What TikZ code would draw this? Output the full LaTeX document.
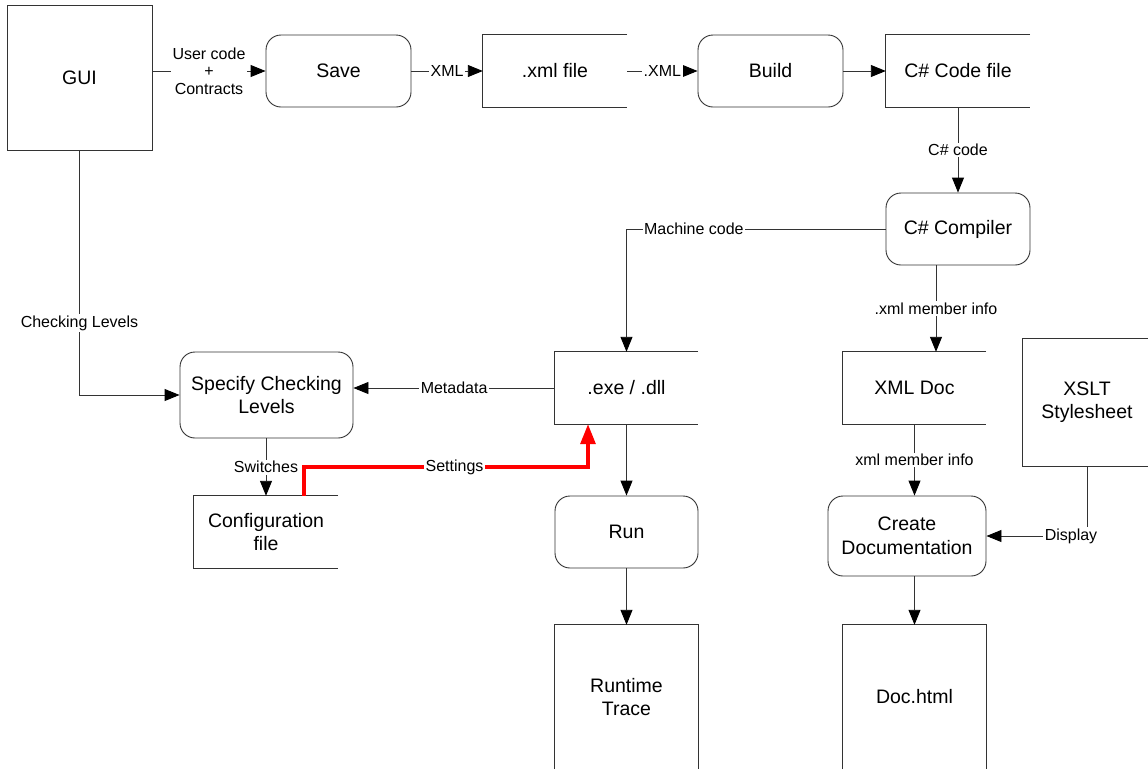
\documentclass[tikz,border=0pt]{standalone}
\usepackage{fontspec}
\setmainfont{Liberation Sans}
\usetikzlibrary{arrows.meta,calc}
\begin{document}
\begin{tikzpicture}[x=1pt,y=-1pt,
  ln/.style={draw=black!80,line width=0.9pt},
  arr/.style={ln,-{Triangle[length=15pt,width=12pt,color=black]}},
  redarr/.style={draw=red,line width=3.2pt,-{Triangle[length=20pt,width=15pt]}},
  box/.style={ln,minimum width=#1,align=center,font=\fontsize{19.5}{23.5}\selectfont,inner sep=0pt},
  rbox/.style={box=#1,rounded corners=15pt},
  fbox/.style={minimum width=#1,align=center,font=\fontsize{19.5}{23.5}\selectfont,inner sep=0pt},
  lbl/.style={fill=white,inner sep=1.5pt,align=center,font=\fontsize{16}{17.5}\selectfont},
]
\useasboundingbox (0,0) rectangle (1148,769);
\clip (0,0) rectangle (1148,769);
\fill[white] (0,0) rectangle (1148,769);

% nodes
\node[box=145pt,minimum height=145pt] (gui) at (79.5,77.5) {GUI};
\node[rbox=145pt,minimum height=72pt] (save) at (338.5,71) {Save};
\node[fbox=144pt,minimum height=72pt] (xmlf) at (555,71) {.xml file};
\node[rbox=145pt,minimum height=72pt] (build) at (770.5,71) {Build};
\node[fbox=144pt,minimum height=72pt] (cscode) at (958,71) {C\# Code file};
\node[rbox=144pt,minimum height=72pt] (comp) at (958,229) {C\# Compiler};
\node[fbox=143pt,minimum height=72pt] (exe) at (626.5,388) {.exe / .dll};
\node[rbox=173pt,minimum height=86pt] (spec) at (266.5,395) {Specify Checking\\Levels};
\node[fbox=144pt,minimum height=72pt] (config) at (266,532) {Configuration\\file};
\node[rbox=143pt,minimum height=72pt] (run) at (626.5,532) {Run};
\node[fbox=143pt,minimum height=144pt] (trace) at (626.5,697) {Runtime\\Trace};
\node[fbox=143pt,minimum height=72pt] (xmldoc) at (914.5,388) {XML Doc};
\node[box=130pt,minimum height=128pt] (xslt) at (1087,402) {};
\node[font=\fontsize{19.5}{23.5}\selectfont,align=center] (xsltt) at (1087,402) {XSLT\\Stylesheet};
\node[rbox=158pt,minimum height=80pt] (create) at (907,536) {Create\\Documentation};
\node[fbox=143pt,minimum height=144pt] (doc) at (914.5,697) {Doc.html};

% open-sided file shapes
\foreach \n in {xmlf,cscode,exe,config,xmldoc}{
  \draw[ln] (\n.north east) -- (\n.north west) -- (\n.south west) -- (\n.south east);
}
\foreach \n in {trace,doc}{
  \draw[ln] (\n.south west) -- (\n.north west) -- (\n.north east) -- (\n.south east);
}

% connectors
\draw[arr] (gui.east |- save.west) -- node[lbl,pos=0.5]{User code\\+\\Contracts} (save.west);
\draw[arr] (save.east) -- node[lbl]{XML} (xmlf.west);
\draw[arr] (xmlf.east) -- node[lbl]{.XML} (build.west);
\draw[arr] (build.east) -- (cscode.west);
\draw[arr] (cscode.south) -- node[lbl]{C\# code} (comp.north);
\draw[arr] (comp.west) -| node[lbl,pos=0.37]{Machine code} (exe.north);
\draw[arr] ([xshift=-22pt]comp.south) -- node[lbl]{.xml member info} ([xshift=-22pt]comp.south |- xmldoc.north);
\draw[arr] (gui.south) |- node[lbl,pos=0.353]{Checking Levels} (spec.west);
\draw[arr] (exe.west) -- node[lbl]{Metadata} (spec.east |- exe.west);
\draw[arr] (spec.south -| config.north) -- node[lbl]{Switches} (config.north);
\coordinate (sA) at ([xshift=38pt]config.north |- 0,467);
\coordinate (sB) at ([xshift=-38.5pt]exe.south |- 0,467);
\draw[redarr] ([xshift=38pt]config.north) -- (sA) -- node[lbl,pos=0.53]{Settings} (sB) -- ([xshift=-38.5pt]exe.south);
\draw[arr] (exe.south) -- (run.north);
\draw[arr] (run.south) -- (trace.north);
\draw[arr] (xmldoc.south) -- node[lbl]{xml member info} (xmldoc.south |- create.north);
\draw[arr] (xslt.south) |- node[lbl,pos=0.5,xshift=-16pt]{Display} (create.east);
\draw[arr] (create.south -| doc.north) -- (doc.north);
\end{tikzpicture}
\end{document}
